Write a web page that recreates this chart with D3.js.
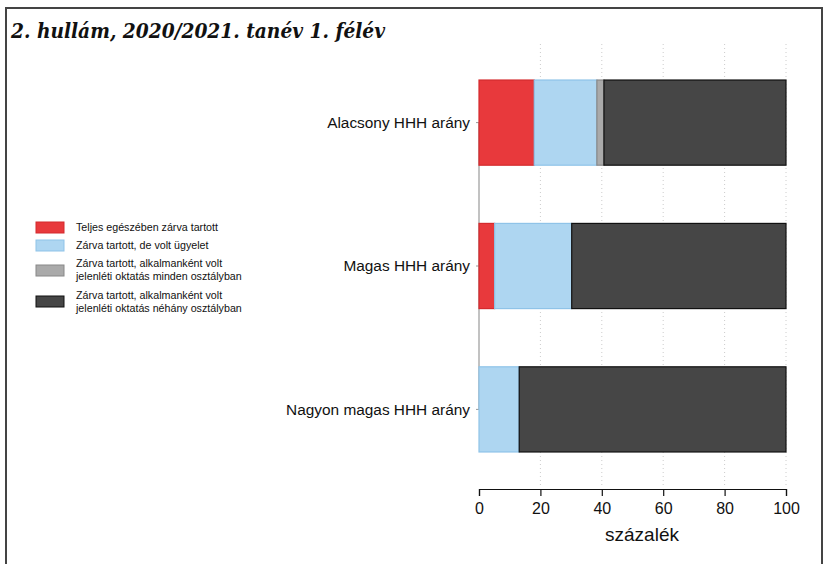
<!DOCTYPE html>
<html><head><meta charset="utf-8">
<script src="https://cdn.jsdelivr.net/npm/d3@7"></script>
<style>body{margin:0;background:#fff}svg{display:block}</style>
</head><body>
<svg id="c" width="826" height="564"></svg>
<script>
const categories = ["Alacsony HHH arány", "Magas HHH arány", "Nagyon magas HHH arány"];
const seriesNames = [
  ["Teljes egészében zárva tartott"],
  ["Zárva tartott, de volt ügyelet"],
  ["Zárva tartott, alkalmanként volt", "jelenléti oktatás minden osztályban"],
  ["Zárva tartott, alkalmanként volt", "jelenléti oktatás néhány osztályban"]
];
const teljes = [18.0, 5.1, 0];
const ugyelet = [20.4, 25.1, 13.1];
const minden = [2.3, 0, 0];
const nehany = [59.3, 69.8, 86.9];
const xTicks = [0, 20, 40, 60, 80, 100];
const title = "2. hullám, 2020/2021. tanév 1. félév";
const xTitle = "százalék";

const fills = ["#E8393C", "#AED6F1", "#AAAAAA", "#464646"];
const strokes = ["#D42A2D", "#8FC3E8", "#888888", "#111111"];

const svg = d3.select("#c");
// frame
svg.append("path").attr("d", "M6,564 V8 H822 V564").attr("fill", "none").attr("stroke", "#444").attr("stroke-width", 2);
svg.append("text").attr("x", 11).attr("y", 38).attr("font-family", "DejaVu Serif Condensed, DejaVu Serif").attr("font-weight", "bold")
  .attr("font-style", "italic").attr("font-size", 21).attr("fill", "#111")
  .attr("textLength", 374).attr("lengthAdjust", "spacingAndGlyphs").text(title);

const x = d3.scaleLinear().domain([0, 100]).range([479, 786]);
const y = d3.scaleBand().domain(categories).range([37, 495]).paddingInner(0.406).paddingOuter(0.3);

// gridlines
svg.append("g").selectAll("line").data(xTicks.slice(1)).join("line")
  .attr("x1", d => x(d)).attr("x2", d => x(d)).attr("y1", 44).attr("y2", 487)
  .attr("stroke", "#ccc").attr("stroke-dasharray", "1,3").attr("stroke-width", 1);

const series = [teljes, ugyelet, minden, nehany];
const stackData = categories.map((c, i) => {
  let acc = 0;
  return series.map((s, k) => { const v = s[i]; const r = {cat: c, k, x0: acc, x1: acc + v}; acc += v; return r; });
});

// y axis line with small ticks
svg.append("line").attr("x1", x(0)).attr("x2", x(0))
  .attr("y1", y(categories[0]) + y.bandwidth() / 2).attr("y2", y(categories[2]) + y.bandwidth() / 2)
  .attr("stroke", "#999").attr("stroke-width", 1.2);
svg.append("g").selectAll("line").data(categories).join("line")
  .attr("x1", x(0) - 3).attr("x2", x(0)).attr("y1", d => y(d) + y.bandwidth() / 2).attr("y2", d => y(d) + y.bandwidth() / 2)
  .attr("stroke", "#999").attr("stroke-width", 1);

const g = svg.append("g");
stackData.flat().filter(d => d.x1 - d.x0 > 0).forEach(d => {
  g.append("rect").attr("x", x(d.x0)).attr("y", y(d.cat)).attr("width", x(d.x1) - x(d.x0)).attr("height", y.bandwidth())
    .attr("fill", fills[d.k]).attr("stroke", strokes[d.k]).attr("stroke-width", 1.2);
});

// category labels
svg.append("g").selectAll("text").data(categories).join("text")
  .attr("x", 470).attr("y", d => y(d) + y.bandwidth() / 2).attr("dy", "0.35em").attr("text-anchor", "end")
  .attr("font-family", "Liberation Sans, Arial").attr("font-size", 15.4).attr("fill", "#111").text(d => d);

// x axis
const ax = svg.append("g").attr("transform", "translate(0,489)")
  .call(d3.axisBottom(x).tickValues(xTicks).tickSize(7).tickPadding(7));
ax.select(".domain").attr("stroke", "#111").attr("stroke-width", 1.2);
ax.selectAll(".tick line").attr("stroke", "#111").attr("stroke-width", 1.2);
ax.selectAll("text").attr("font-family", "Liberation Sans, Arial").attr("font-size", 16).attr("fill", "#111");

svg.append("text").attr("x", 642).attr("y", 541).attr("text-anchor", "middle")
  .attr("font-family", "Liberation Sans, Arial").attr("font-size", 19).attr("fill", "#111").text(xTitle);

// legend
const legRects = [222, 240, 265, 296];
const legText = [[227], [245.5], [263.5, 276.5], [295, 308]];
seriesNames.forEach((lines, k) => {
  svg.append("rect").attr("x", 36).attr("y", legRects[k]).attr("width", 28).attr("height", 11)
    .attr("fill", fills[k]).attr("stroke", strokes[k]).attr("stroke-width", 1);
  lines.forEach((t, j) => {
    svg.append("text").attr("x", 76).attr("y", legText[k][j]).attr("dy", "0.35em")
      .attr("font-family", "Liberation Sans, Arial").attr("font-size", 10.7).attr("fill", "#111").text(t);
  });
});
</script>
</body></html>
